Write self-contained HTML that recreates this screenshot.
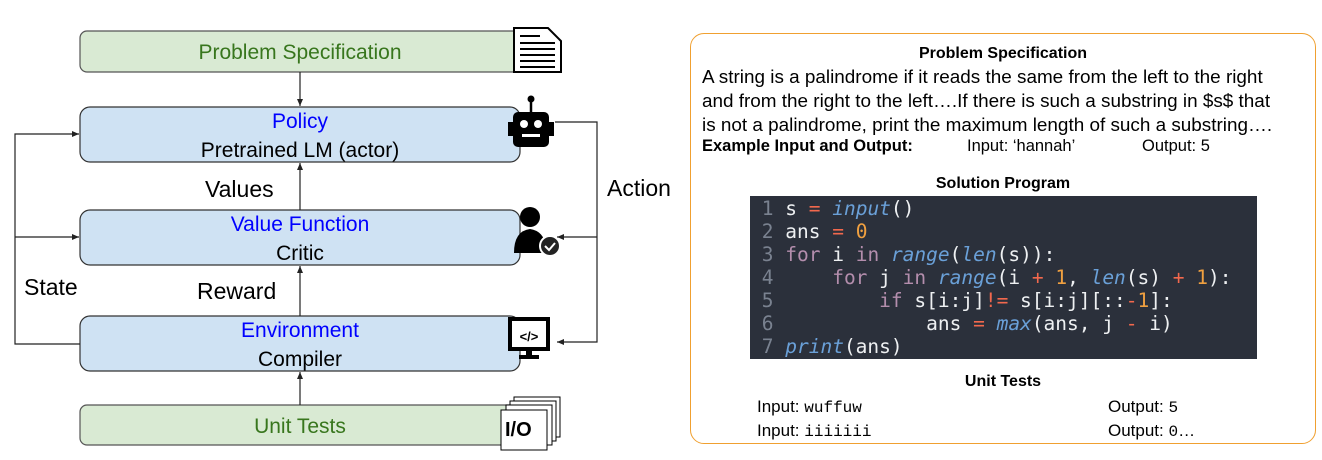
<!DOCTYPE html>
<html><head><meta charset="utf-8"><style>
body{margin:0;width:1322px;height:460px;background:#fff;position:relative;overflow:hidden;font-family:"Liberation Sans",sans-serif}
.a{position:absolute;white-space:pre}
.code{position:absolute;left:750px;top:196px;width:507px;height:163px;background:#2b303b;font-family:"DejaVu Sans Mono","Liberation Mono",monospace;font-size:19.5px;color:#eef0f2;overflow:hidden}
.code div{position:absolute;left:0;white-space:pre;height:23px;line-height:23px}
.n{color:#7a8290}.k{color:#b48ead}.f{color:#6aa0d8;font-style:italic}.o{color:#f2684d}.d{color:#f0a040}
</style></head><body>
<svg width="690" height="460" style="position:absolute;left:0;top:0" font-family="Liberation Sans, sans-serif">
<defs><marker id="ar" markerWidth="8" markerHeight="8" refX="7" refY="4" orient="auto" markerUnits="userSpaceOnUse"><path d="M0,1 L7,4 L0,7z" fill="#222"/></marker></defs>
<rect x="80" y="31" width="440" height="41" rx="7" fill="#d9ead3" stroke="#555" stroke-width="1.2"/>
<rect x="80" y="107" width="440" height="55" rx="10" fill="#cfe2f3" stroke="#333" stroke-width="1.2"/>
<rect x="80" y="210" width="440" height="55" rx="10" fill="#cfe2f3" stroke="#333" stroke-width="1.2"/>
<rect x="80" y="316" width="440" height="55" rx="10" fill="#cfe2f3" stroke="#333" stroke-width="1.2"/>
<rect x="80" y="405" width="440" height="40" rx="7" fill="#d9ead3" stroke="#555" stroke-width="1.2"/>
<text x="300" y="59" font-size="21" fill="#38761d" text-anchor="middle">Problem Specification</text>
<text x="300" y="128" font-size="21" fill="#0000ff" text-anchor="middle">Policy</text>
<text x="300" y="157" font-size="21" fill="#000" text-anchor="middle">Pretrained LM (actor)</text>
<text x="300" y="231" font-size="21" fill="#0000ff" text-anchor="middle">Value Function</text>
<text x="300" y="260" font-size="21" fill="#000" text-anchor="middle">Critic</text>
<text x="300" y="337" font-size="21" fill="#0000ff" text-anchor="middle">Environment</text>
<text x="300" y="366" font-size="21" fill="#000" text-anchor="middle">Compiler</text>
<text x="300" y="433" font-size="21" fill="#38761d" text-anchor="middle">Unit Tests</text>
<text x="205" y="197" font-size="23">Values</text>
<text x="197" y="299" font-size="23">Reward</text>
<text x="24" y="295" font-size="23">State</text>
<text x="607" y="196" font-size="23">Action</text>
<g stroke="#222" stroke-width="1.2" fill="none">
<line x1="300" y1="72" x2="300" y2="106" marker-end="url(#ar)"/>
<line x1="300" y1="210" x2="300" y2="163" marker-end="url(#ar)"/>
<line x1="300" y1="316" x2="300" y2="266" marker-end="url(#ar)"/>
<line x1="300" y1="405" x2="300" y2="372" marker-end="url(#ar)"/>
<polyline points="80,344 15,344 15,134 79,134" marker-end="url(#ar)"/>
<line x1="15" y1="237" x2="79" y2="237" marker-end="url(#ar)"/>
<polyline points="555,122 597,122 597,342 557,342" marker-end="url(#ar)"/>
<line x1="597" y1="237" x2="557" y2="237" marker-end="url(#ar)"/>
</g>
<rect x="514" y="28" width="48" height="44" fill="#fff"/>
<path d="M514,28 h34 l13,13 v31 h-47z" fill="#fff" stroke="#000" stroke-width="2"/>
<g stroke="#000" stroke-width="2"><line x1="520" y1="36" x2="540" y2="36"/><line x1="520" y1="43" x2="555" y2="43"/><line x1="520" y1="49" x2="555" y2="49"/><line x1="520" y1="55" x2="555" y2="55"/><line x1="520" y1="61" x2="555" y2="61"/><line x1="520" y1="67" x2="555" y2="67"/></g>
<line x1="531" y1="99" x2="531" y2="113" stroke="#000" stroke-width="2.5"/><circle cx="531" cy="99" r="3.5"/>
<rect x="513" y="112" width="36" height="35" rx="5"/><rect x="508" y="122" width="6" height="14"/><rect x="548" y="122" width="6" height="14"/>
<circle cx="524" cy="124" r="4" fill="#fff"/><circle cx="538" cy="124" r="4" fill="#fff"/><rect x="522" y="134" width="18" height="3" fill="#fff"/>
<circle cx="530" cy="217" r="10"/><path d="M514,253 q0,-22 16,-24 q14,2 16,18 v6z"/>
<circle cx="550" cy="246" r="10" fill="#222" stroke="#fff" stroke-width="2"/><path d="M545,246 l4,4 l6,-7" stroke="#fff" stroke-width="2" fill="none"/>
<rect x="510" y="319" width="38" height="30" fill="#fff" stroke="#000" stroke-width="4"/>
<rect x="526" y="349" width="6" height="7"/><rect x="519" y="355" width="20" height="4"/>
<text x="529" y="341" font-size="13" text-anchor="middle" font-weight="bold">&lt;/&gt;</text>
<rect x="514" y="397" width="46" height="40" fill="#fff" stroke="#000"/>
<rect x="510" y="401" width="46" height="40" fill="#fff" stroke="#000"/>
<rect x="506" y="405" width="46" height="40" fill="#fff" stroke="#000"/>
<rect x="501" y="410" width="46" height="40" fill="#fff" stroke="#000"/>
<text x="505" y="436" font-size="20" font-weight="bold">I/O</text>
</svg>
<div style="position:absolute;left:690px;top:33px;width:624px;height:409px;border:1.3px solid #f0a030;border-radius:14px"></div>
<div class="a" style="left:690px;width:626px;text-align:center;top:45px;font-size:16px;font-weight:bold">Problem Specification</div>
<div class="a" style="left:702px;top:66px;font-size:18.9px;line-height:24px">A string is a palindrome if it reads the same from the left to the right
and from the right to the left….If there is such a substring in $s$ that
is not a palindrome, print the maximum length of such a substring….</div>
<div class="a" style="left:702px;top:137px;font-size:16.5px;font-weight:bold">Example Input and Output:</div>
<div class="a" style="left:967px;top:137px;font-size:16.5px">Input: ‘hannah’</div>
<div class="a" style="left:1142px;top:137px;font-size:16.5px">Output: 5</div>
<div class="a" style="left:690px;width:626px;text-align:center;top:175px;font-size:16px;font-weight:bold">Solution Program</div>
<div class="code">
<div style="top:1px"><span class="n"> 1 </span>s <span class="o">=</span> <span class="f">input</span>()</div>
<div style="top:24px"><span class="n"> 2 </span>ans <span class="o">=</span> <span class="d">0</span></div>
<div style="top:47px"><span class="n"> 3 </span><span class="k">for</span> i <span class="k">in</span> <span class="f">range</span>(<span class="f">len</span>(s)):</div>
<div style="top:70px"><span class="n"> 4 </span>    <span class="k">for</span> j <span class="k">in</span> <span class="f">range</span>(i <span class="o">+</span> <span class="d">1</span>, <span class="f">len</span>(s) <span class="o">+</span> <span class="d">1</span>):</div>
<div style="top:93px"><span class="n"> 5 </span>        <span class="k">if</span> s[i:j]<span class="o">!=</span> s[i:j][::<span class="o">-</span><span class="d">1</span>]:</div>
<div style="top:116px"><span class="n"> 6 </span>            ans <span class="o">=</span> <span class="f">max</span>(ans, j <span class="o">-</span> i)</div>
<div style="top:139px"><span class="n"> 7 </span><span class="f">print</span>(ans)</div>
</div>
<div class="a" style="left:690px;width:626px;text-align:center;top:373px;font-size:16px;font-weight:bold">Unit Tests</div>
<div class="a" style="left:757px;top:397px;font-size:17px">Input: <span style="font-family:'Liberation Mono',monospace;font-size:16px">wuffuw</span></div>
<div class="a" style="left:757px;top:421px;font-size:17px">Input: <span style="font-family:'Liberation Mono',monospace;font-size:16px">iiiiiii</span></div>
<div class="a" style="left:1108px;top:397px;font-size:17px">Output: <span style="font-family:'Liberation Mono',monospace;font-size:16px">5</span></div>
<div class="a" style="left:1108px;top:421px;font-size:17px">Output: <span style="font-family:'Liberation Mono',monospace;font-size:16px">0</span>…</div>
</body></html>
